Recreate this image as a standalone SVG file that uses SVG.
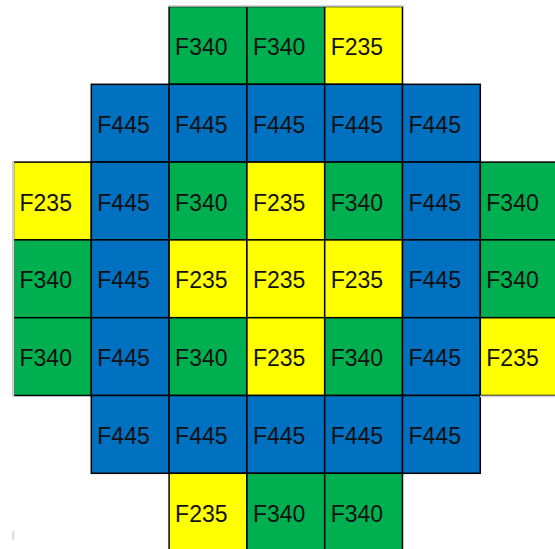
<svg xmlns="http://www.w3.org/2000/svg" width="555" height="549" viewBox="0 0 555 549">
<style>
.c rect{stroke:#000;stroke-width:1.5}
.g{fill:#00B050}
.b{fill:#0070C0}
.y{fill:#FFFF00}
text{font-family:"Liberation Sans",Arial,sans-serif;font-size:23px;fill:#111}
.edge{stroke:#d6d6d6;stroke-width:1.8;fill:none}
</style>
<rect width="555" height="549" fill="#fff"/>
<g class="c">
<g id="r0c2"><rect class="g" x="169.1" y="6.5" width="77.8" height="77.8"/><text x="175.1" y="55">F340</text></g>
<g id="r0c3"><rect class="g" x="246.9" y="6.5" width="77.8" height="77.8"/><text x="252.9" y="55">F340</text></g>
<g id="r0c4"><rect class="y" x="324.7" y="6.5" width="77.8" height="77.8"/><text x="330.7" y="55">F235</text></g>

<g id="r1c1"><rect class="b" x="91.3" y="84.3" width="77.8" height="77.8"/><text x="97.3" y="132.8">F445</text></g>
<g id="r1c2"><rect class="b" x="169.1" y="84.3" width="77.8" height="77.8"/><text x="175.1" y="132.8">F445</text></g>
<g id="r1c3"><rect class="b" x="246.9" y="84.3" width="77.8" height="77.8"/><text x="252.9" y="132.8">F445</text></g>
<g id="r1c4"><rect class="b" x="324.7" y="84.3" width="77.8" height="77.8"/><text x="330.7" y="132.8">F445</text></g>
<g id="r1c5"><rect class="b" x="402.5" y="84.3" width="77.8" height="77.8"/><text x="408.5" y="132.8">F445</text></g>

<g id="r2c0"><rect class="y" x="13.5" y="162.1" width="77.8" height="77.8"/><text x="19.5" y="210.6">F235</text></g>
<g id="r2c1"><rect class="b" x="91.3" y="162.1" width="77.8" height="77.8"/><text x="97.3" y="210.6">F445</text></g>
<g id="r2c2"><rect class="g" x="169.1" y="162.1" width="77.8" height="77.8"/><text x="175.1" y="210.6">F340</text></g>
<g id="r2c3"><rect class="y" x="246.9" y="162.1" width="77.8" height="77.8"/><text x="252.9" y="210.6">F235</text></g>
<g id="r2c4"><rect class="g" x="324.7" y="162.1" width="77.8" height="77.8"/><text x="330.7" y="210.6">F340</text></g>
<g id="r2c5"><rect class="b" x="402.5" y="162.1" width="77.8" height="77.8"/><text x="408.5" y="210.6">F445</text></g>
<g id="r2c6"><rect class="g" x="480.3" y="162.1" width="77.8" height="77.8"/><text x="486.3" y="210.6">F340</text></g>

<g id="r3c0"><rect class="g" x="13.5" y="239.9" width="77.8" height="77.8"/><text x="19.5" y="288.4">F340</text></g>
<g id="r3c1"><rect class="b" x="91.3" y="239.9" width="77.8" height="77.8"/><text x="97.3" y="288.4">F445</text></g>
<g id="r3c2"><rect class="y" x="169.1" y="239.9" width="77.8" height="77.8"/><text x="175.1" y="288.4">F235</text></g>
<g id="r3c3"><rect class="y" x="246.9" y="239.9" width="77.8" height="77.8"/><text x="252.9" y="288.4">F235</text></g>
<g id="r3c4"><rect class="y" x="324.7" y="239.9" width="77.8" height="77.8"/><text x="330.7" y="288.4">F235</text></g>
<g id="r3c5"><rect class="b" x="402.5" y="239.9" width="77.8" height="77.8"/><text x="408.5" y="288.4">F445</text></g>
<g id="r3c6"><rect class="g" x="480.3" y="239.9" width="77.8" height="77.8"/><text x="486.3" y="288.4">F340</text></g>

<g id="r4c0"><rect class="g" x="13.5" y="317.7" width="77.8" height="77.8"/><text x="19.5" y="366.2">F340</text></g>
<g id="r4c1"><rect class="b" x="91.3" y="317.7" width="77.8" height="77.8"/><text x="97.3" y="366.2">F445</text></g>
<g id="r4c2"><rect class="g" x="169.1" y="317.7" width="77.8" height="77.8"/><text x="175.1" y="366.2">F340</text></g>
<g id="r4c3"><rect class="y" x="246.9" y="317.7" width="77.8" height="77.8"/><text x="252.9" y="366.2">F235</text></g>
<g id="r4c4"><rect class="g" x="324.7" y="317.7" width="77.8" height="77.8"/><text x="330.7" y="366.2">F340</text></g>
<g id="r4c5"><rect class="b" x="402.5" y="317.7" width="77.8" height="77.8"/><text x="408.5" y="366.2">F445</text></g>
<g id="r4c6"><rect class="y" x="480.3" y="317.7" width="77.8" height="77.8"/><text x="486.3" y="366.2">F235</text></g>

<g id="r5c1"><rect class="b" x="91.3" y="395.5" width="77.8" height="77.8"/><text x="97.3" y="444">F445</text></g>
<g id="r5c2"><rect class="b" x="169.1" y="395.5" width="77.8" height="77.8"/><text x="175.1" y="444">F445</text></g>
<g id="r5c3"><rect class="b" x="246.9" y="395.5" width="77.8" height="77.8"/><text x="252.9" y="444">F445</text></g>
<g id="r5c4"><rect class="b" x="324.7" y="395.5" width="77.8" height="77.8"/><text x="330.7" y="444">F445</text></g>
<g id="r5c5"><rect class="b" x="402.5" y="395.5" width="77.8" height="77.8"/><text x="408.5" y="444">F445</text></g>

<g id="r6c2"><rect class="y" x="169.1" y="473.3" width="77.8" height="77.8"/><text x="175.1" y="521.8">F235</text></g>
<g id="r6c3"><rect class="g" x="246.9" y="473.3" width="77.8" height="77.8"/><text x="252.9" y="521.8">F340</text></g>
<g id="r6c4"><rect class="g" x="324.7" y="473.3" width="77.8" height="77.8"/><text x="330.7" y="521.8">F340</text></g>
</g>
<g id="edges">
<line class="edge" x1="168" y1="5.8" x2="404" y2="5.8"/>
<line class="edge" x1="13.3" y1="161" x2="13.3" y2="397"/>
<line class="edge" x1="480" y1="396.3" x2="555" y2="396.3"/>
<line class="edge" x1="13.3" y1="531" x2="13.3" y2="540"/>
</g>
</svg>
